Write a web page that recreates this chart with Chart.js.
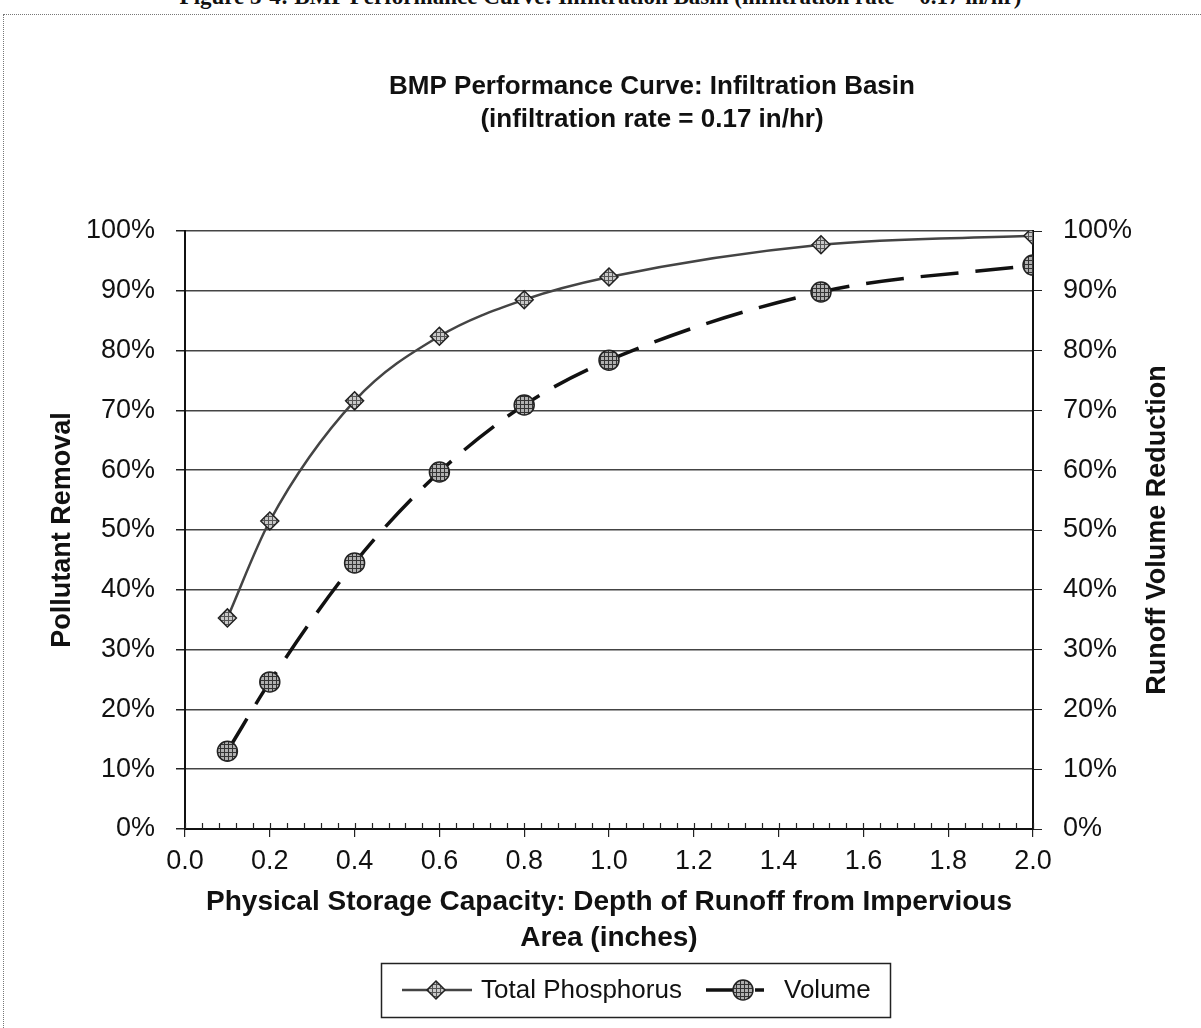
<!DOCTYPE html>
<html>
<head>
<meta charset="utf-8">
<title>BMP Performance Curve: Infiltration Basin</title>
<script src="https://cdn.jsdelivr.net/npm/chart.js@4.4.1/dist/chart.umd.min.js"></script>
<style>
  html, body { margin: 0; padding: 0; background: #fff; }
  #wrap { position: relative; width: 1201px; height: 1028px; overflow: hidden; }
  #frame { position: absolute; left: 3px; top: 14px; right: -10px; bottom: -10px;
           border-left: 1px dotted #777; border-top: 1px dotted #777; }
  #cut { position: absolute; left: 0; top: -16px; width: 1201px; text-align: center;
         font: bold 23px "Liberation Serif", "DejaVu Serif", serif; color: #111; white-space: nowrap; }
  canvas { position: absolute; left: 0; top: 0; }
</style>
</head>
<body>
<div id="wrap">
  <div id="cut">Figure 3-4: BMP Performance Curve: Infiltration Basin (infiltration rate = 0.17 in/hr)</div>
  <div id="frame"></div>
  <canvas id="bmp_curve" width="1201" height="1028"></canvas>
</div>
<script>
// values
var capacity   = [0.1, 0.2, 0.4, 0.6, 0.8, 1.0, 1.5, 2.0];          // inches of runoff stored
var phosphorus = [35.3, 51.5, 71.6, 82.4, 88.5, 92.3, 97.7, 99.2];  // % pollutant removal
var volume     = [13.0, 24.6, 44.5, 59.7, 70.9, 78.4, 89.8, 94.3];  // % runoff volume reduction
var seriesNames = ['Total Phosphorus', 'Volume'];

var titleLines = ['BMP Performance Curve: Infiltration Basin', '(infiltration rate = 0.17 in/hr)'];
var xTitle     = ['Physical Storage Capacity: Depth of Runoff from Impervious', 'Area (inches)'];
var yTitle     = 'Pollutant Removal';
var y1Title    = 'Runoff Volume Reduction';

var FONT = '"Liberation Sans", Arial, Helvetica, sans-serif';
var INK  = '#111';

// plot box of the original
var BOX = { left: 185, top: 231, right: 1033, bottom: 829, legendTop: 958 };

function hatch(bg, fg) {
    var c = document.createElement('canvas');
    c.width = 4; c.height = 4;
    var g = c.getContext('2d');
    g.fillStyle = bg; g.fillRect(0, 0, 4, 4);
    g.fillStyle = fg; g.fillRect(0, 0, 4, 1); g.fillRect(0, 0, 1, 4);
    return g.createPattern(c, 'repeat');
}
var diamondFill = hatch('#c8c8c8', '#555');
var dotFill     = hatch('#b0b0b0', '#333');

function marker(ctx, style, x, y, r, fill) {
    ctx.beginPath();
    if (style === 'rectRot') {
        ctx.moveTo(x, y - r); ctx.lineTo(x + r, y); ctx.lineTo(x, y + r); ctx.lineTo(x - r, y);
        ctx.closePath();
    } else {
        ctx.arc(x, y, r, 0, Math.PI * 2);
    }
    ctx.fillStyle = fill; ctx.fill();
    ctx.lineWidth = 1.5; ctx.strokeStyle = '#222'; ctx.stroke();
}

// title, right axis title, boxed legend and the small minor ticks on the x axis
var decor = {
    id: 'decor',
    beforeDatasetsDraw: function(chart) {
        var ctx = chart.ctx, xs = chart.scales.x, a = chart.chartArea;
        ctx.save();
        ctx.strokeStyle = '#222';
        ctx.lineWidth = 1.2;
        for (var i = 0; i <= 50; i++) {
            var px = Math.round(xs.getPixelForValue(i * 0.04)) + 0.5;
            ctx.beginPath();
            ctx.moveTo(px, a.bottom);
            ctx.lineTo(px, a.bottom - 6);
            ctx.stroke();
        }
        ctx.restore();
    },
    afterDraw: function(chart) {
        var ctx = chart.ctx, a = chart.chartArea;
        var ds = chart.data.datasets;
        ctx.save();
        ctx.fillStyle = INK;
        ctx.textAlign = 'center';
        ctx.textBaseline = 'middle';

        ctx.font = 'bold 26px ' + FONT;
        ctx.fillText(titleLines[0], 652, 87);
        ctx.fillText(titleLines[1], 652, 120);

        ctx.save();
        ctx.translate(1158, (a.top + a.bottom) / 2);
        ctx.rotate(-Math.PI / 2);
        ctx.font = 'bold 27px ' + FONT;
        ctx.fillText(y1Title, 0, 0);
        ctx.restore();

        // legend box
        var ly = 990;
        ctx.strokeStyle = '#222';
        ctx.lineWidth = 1.5;
        ctx.strokeRect(381.5, 963.5, 509, 54);

        ctx.strokeStyle = ds[0].borderColor;
        ctx.lineWidth = ds[0].borderWidth;
        ctx.beginPath(); ctx.moveTo(402, ly); ctx.lineTo(472, ly); ctx.stroke();
        marker(ctx, ds[0].pointStyle, 436, ly, ds[0].pointRadius, ds[0].pointBackgroundColor);

        ctx.strokeStyle = ds[1].borderColor;
        ctx.lineWidth = ds[1].borderWidth;
        ctx.beginPath(); ctx.moveTo(706, ly); ctx.lineTo(736, ly); ctx.stroke();
        ctx.beginPath(); ctx.moveTo(755, ly); ctx.lineTo(764, ly); ctx.stroke();
        marker(ctx, ds[1].pointStyle, 743, ly, ds[1].pointRadius, ds[1].pointBackgroundColor);

        ctx.fillStyle = INK;
        ctx.textAlign = 'left';
        ctx.font = '26px ' + FONT;
        ctx.fillText(seriesNames[0], 481, ly + 1);
        ctx.fillText(seriesNames[1], 784, ly + 1);
        ctx.restore();
    }
};

function pts(ys) {
    return capacity.map(function(x, i) { return { x: x, y: ys[i] }; });
}

Chart.defaults.font.family = FONT;
Chart.defaults.color = INK;

new Chart(document.getElementById('bmp_curve'), {
    type: 'line',
    data: {
        datasets: [
            {
                label: seriesNames[0],
                data: pts(phosphorus),
                yAxisID: 'y',
                borderColor: '#444',
                borderWidth: 2.5,
                cubicInterpolationMode: 'monotone',
                pointStyle: 'rectRot',
                pointRadius: 9,
                pointBackgroundColor: diamondFill,
                pointBorderColor: '#222',
                pointBorderWidth: 1.5
            },
            {
                label: seriesNames[1],
                data: pts(volume),
                yAxisID: 'y1',
                borderColor: '#111',
                borderWidth: 3.5,
                borderDash: [38, 17],
                cubicInterpolationMode: 'monotone',
                pointStyle: 'circle',
                pointRadius: 10,
                pointBackgroundColor: dotFill,
                pointBorderColor: '#222',
                pointBorderWidth: 1.5
            }
        ]
    },
    options: {
        responsive: false,
        animation: false,
        devicePixelRatio: 1,
        events: [],
        layout: { padding: { top: BOX.top, bottom: 1028 - BOX.legendTop, left: 0, right: 0 } },
        plugins: {
            legend: { display: false },
            title: { display: false },
            tooltip: { enabled: false }
        },
        scales: {
            x: {
                type: 'linear',
                min: 0,
                max: 2,
                afterFit: function(s) { s.height = BOX.legendTop - BOX.bottom; },
                border: { display: true, color: '#111', width: 2 },
                grid: { drawOnChartArea: false, tickLength: 8, color: '#222', lineWidth: 1.2 },
                ticks: {
                    stepSize: 0.2,
                    maxRotation: 0,
                    autoSkip: false,
                    padding: 8,
                    font: { size: 27 },
                    callback: function(v) { return Number(v).toFixed(1); }
                },
                title: {
                    display: true,
                    text: xTitle,
                    font: { size: 28, weight: 'bold', lineHeight: 1.28 },
                    padding: { top: 0, bottom: 2 }
                }
            },
            y: {
                position: 'left',
                min: 0,
                max: 100,
                afterFit: function(s) { s.width = BOX.left; },
                border: { display: true, color: '#111', width: 2 },
                grid: { color: '#444', lineWidth: 1.5, tickLength: 9, tickColor: '#222' },
                ticks: {
                    stepSize: 10,
                    padding: 21,
                    font: { size: 27 },
                    callback: function(v) { return v + '%'; }
                },
                title: {
                    display: true,
                    text: yTitle,
                    font: { size: 27, weight: 'bold', lineHeight: 1.2 },
                    padding: { top: 46, bottom: 0 }
                }
            },
            y1: {
                position: 'right',
                min: 0,
                max: 100,
                afterFit: function(s) { s.width = 1201 - BOX.right; },
                border: { display: true, color: '#111', width: 2 },
                grid: { drawOnChartArea: false, tickLength: 9, color: '#222' },
                ticks: {
                    stepSize: 10,
                    padding: 21,
                    font: { size: 27 },
                    callback: function(v) { return v + '%'; }
                }
            }
        }
    },
    plugins: [decor]
});
</script>
</body>
</html>
